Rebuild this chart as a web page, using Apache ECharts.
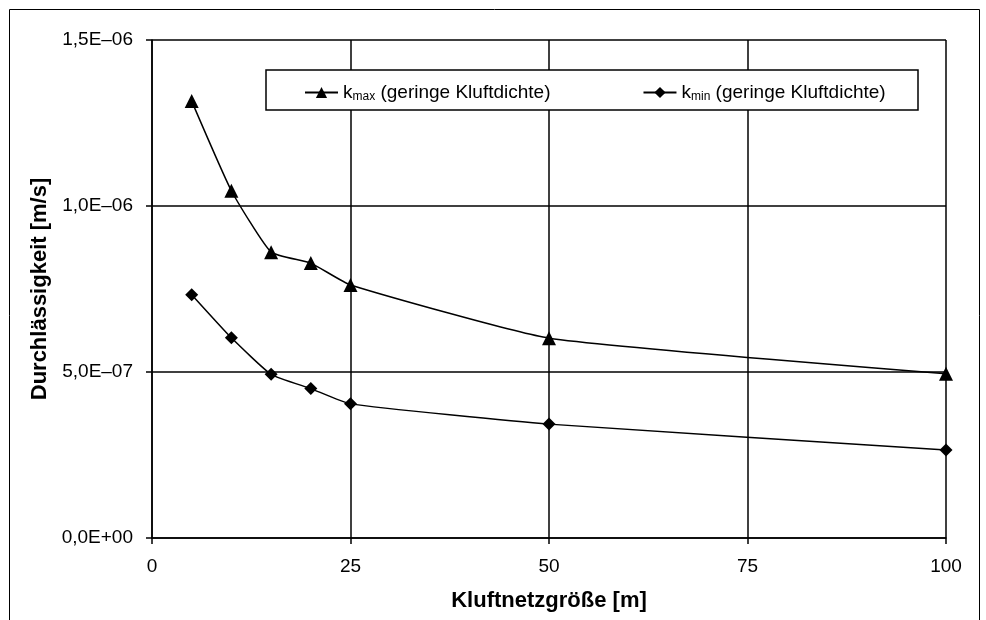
<!DOCTYPE html>
<html><head><meta charset="utf-8">
<script src="https://cdn.jsdelivr.net/npm/echarts@6/dist/echarts.min.js"></script>
<style>html,body{margin:0;padding:0;background:#fff}#c{width:986px;height:620px}</style>
</head><body><div id="c"></div>
<script>
const xValues = [5, 10, 15, 20, 25, 50, 100];
const kMax = [1.316e-6, 1.046e-6, 0.861e-6, 0.828e-6, 0.762e-6, 0.602e-6, 0.495e-6];
const kMin = [0.733e-6, 0.603e-6, 0.493e-6, 0.450e-6, 0.404e-6, 0.343e-6, 0.265e-6];
const seriesNames = ['kmax (geringe Kluftdichte)', 'kmin (geringe Kluftdichte)'];
const xTitle = 'Kluftnetzgröße [m]';
const yTitle = 'Durchlässigkeit [m/s]';

const font = 'Liberation Sans, Arial, sans-serif';
function fmtY(v) {
  if (v === 0) return '0,0E+00';
  const s = v.toExponential(1);
  const [m, e] = s.split('e');
  const ei = parseInt(e, 10);
  const sign = ei < 0 ? '\u2013' : '+';
  const ea = String(Math.abs(ei)).padStart(2, '0');
  return m.replace('.', ',') + 'E' + sign + ea;
}
const chart = echarts.init(document.getElementById('c'), null, {renderer: 'canvas'});
chart.setOption({
  backgroundColor: '#fff',
  animation: false,
  textStyle: {fontFamily: font, color: '#000'},
  graphic: [
    {type: 'rect', z: 0, silent: true, shape: {x: 9.5, y: 9.5, width: 970, height: 640}, style: {fill: 'none', stroke: '#000', lineWidth: 1}},
    {type: 'rect', z: 10, silent: true, shape: {x: 266, y: 70, width: 652, height: 40}, style: {fill: '#fff', stroke: '#000', lineWidth: 1.5}}
  ],
  grid: {left: 152, right: 40, top: 40, bottom: 82, containLabel: false},
  legend: {
    z: 20,
    left: 299, top: 78,
    itemWidth: 33, itemHeight: 14, itemGap: 92,
    data: seriesNames,
    formatter: function (name) {
      const sub = name.startsWith('kmax') ? 'max' : 'min';
      return '{k|k}{s|' + sub + '}{t|' + name.slice(4) + '}';
    },
    textStyle: {
      fontFamily: font, color: '#000', fontSize: 19,
      rich: {
        k: {fontSize: 19, fontFamily: font, color: '#000'},
        s: {fontSize: 12, fontFamily: font, color: '#000', verticalAlign: 'bottom', padding: [9, 0, 0, 0]},
        t: {fontSize: 19, fontFamily: font, color: '#000'}
      }
    }
  },
  xAxis: {
    type: 'value', min: 0, max: 100, interval: 25,
    name: xTitle, nameLocation: 'middle', nameGap: 52,
    nameTextStyle: {fontFamily: font, fontSize: 22, fontWeight: 'bold', color: '#000'},
    axisLine: {lineStyle: {color: '#000', width: 1.5}},
    axisTick: {show: true, length: 6, lineStyle: {color: '#000', width: 1.5}},
    axisLabel: {fontFamily: font, fontSize: 19, color: '#000', margin: 19},
    splitLine: {show: true, lineStyle: {color: '#000', width: 1.5}}
  },
  yAxis: {
    type: 'value', min: 0, max: 1.5e-6, interval: 0.5e-6,
    name: yTitle, nameLocation: 'middle', nameGap: 94,
    nameTextStyle: {fontFamily: font, fontSize: 22, fontWeight: 'bold', color: '#000'},
    axisLine: {show: true, lineStyle: {color: '#000', width: 1.5}},
    axisTick: {show: true, length: 6, lineStyle: {color: '#000', width: 1.5}},
    axisLabel: {fontFamily: font, fontSize: 19, color: '#000', margin: 19, formatter: fmtY},
    splitLine: {show: true, lineStyle: {color: '#000', width: 1.5}}
  },
  series: [
    {
      name: seriesNames[0], type: 'line', smooth: 0.15, z: 5,
      data: xValues.map((x, i) => [x, kMax[i]]),
      symbol: 'triangle', symbolSize: 14,
      lineStyle: {color: '#000', width: 1.5},
      itemStyle: {color: '#000'}
    },
    {
      name: seriesNames[1], type: 'line', smooth: 0.15, z: 5,
      data: xValues.map((x, i) => [x, kMin[i]]),
      symbol: 'diamond', symbolSize: 13,
      lineStyle: {color: '#000', width: 1.5},
      itemStyle: {color: '#000'}
    }
  ]
});
</script>
</body></html>
